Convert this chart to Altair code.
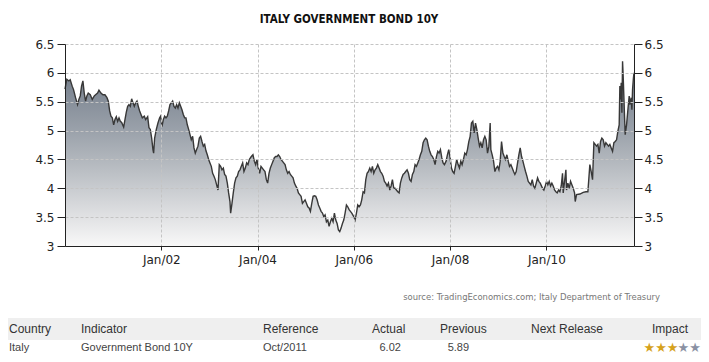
import altair as alt
import pandas as pd

# ---- series (decimal year, yield %) ----
years = [
    2000.000, 2000.011, 2000.038, 2000.080, 2000.108, 2000.149, 2000.177, 2000.219, 2000.260, 2000.288,
    2000.316, 2000.343, 2000.371, 2000.399, 2000.427, 2000.454, 2000.482, 2000.524, 2000.565, 2000.607,
    2000.634, 2000.676, 2000.704, 2000.745, 2000.787, 2000.828, 2000.870, 2000.898, 2000.926, 2000.953,
    2000.981, 2001.009, 2001.036, 2001.064, 2001.092, 2001.120, 2001.147, 2001.175, 2001.217, 2001.244,
    2001.272, 2001.300, 2001.327, 2001.355, 2001.383, 2001.411, 2001.438, 2001.466, 2001.494, 2001.521,
    2001.549, 2001.577, 2001.605, 2001.646, 2001.674, 2001.716, 2001.743, 2001.771, 2001.799, 2001.826,
    2001.840, 2001.861, 2001.896, 2001.930, 2001.965, 2001.986, 2002.013, 2002.041, 2002.069, 2002.097,
    2002.124, 2002.152, 2002.180, 2002.208, 2002.235, 2002.263, 2002.291, 2002.318, 2002.346, 2002.374,
    2002.402, 2002.429, 2002.457, 2002.485, 2002.512, 2002.540, 2002.568, 2002.596, 2002.623, 2002.651,
    2002.679, 2002.706, 2002.734, 2002.762, 2002.790, 2002.817, 2002.845, 2002.873, 2002.901, 2002.928,
    2002.956, 2002.984, 2003.011, 2003.039, 2003.067, 2003.095, 2003.122, 2003.150, 2003.178, 2003.205,
    2003.233, 2003.261, 2003.289, 2003.316, 2003.344, 2003.372, 2003.399, 2003.427, 2003.441, 2003.469,
    2003.496, 2003.524, 2003.552, 2003.580, 2003.607, 2003.635, 2003.663, 2003.691, 2003.718, 2003.746,
    2003.774, 2003.801, 2003.829, 2003.871, 2003.905, 2003.933, 2003.961, 2003.988, 2004.016, 2004.044,
    2004.072, 2004.099, 2004.127, 2004.155, 2004.183, 2004.210, 2004.238, 2004.266, 2004.293, 2004.321,
    2004.349, 2004.377, 2004.404, 2004.432, 2004.460, 2004.487, 2004.515, 2004.543, 2004.571, 2004.598,
    2004.626, 2004.654, 2004.681, 2004.709, 2004.737, 2004.765, 2004.792, 2004.820, 2004.848, 2004.875,
    2004.903, 2004.931, 2004.959, 2004.986, 2005.014, 2005.042, 2005.069, 2005.097, 2005.125, 2005.153,
    2005.180, 2005.208, 2005.236, 2005.264, 2005.291, 2005.319, 2005.347, 2005.374, 2005.402, 2005.430,
    2005.458, 2005.485, 2005.513, 2005.541, 2005.568, 2005.596, 2005.624, 2005.652, 2005.679, 2005.707,
    2005.735, 2005.763, 2005.790, 2005.818, 2005.846, 2005.873, 2005.901, 2005.929, 2005.957, 2005.998,
    2006.026, 2006.054, 2006.081, 2006.109, 2006.137, 2006.164, 2006.192, 2006.220, 2006.248, 2006.275,
    2006.303, 2006.331, 2006.359, 2006.386, 2006.414, 2006.442, 2006.469, 2006.497, 2006.525, 2006.553,
    2006.580, 2006.608, 2006.636, 2006.663, 2006.691, 2006.719, 2006.747, 2006.774, 2006.802, 2006.830,
    2006.857, 2006.885, 2006.913, 2006.941, 2006.968, 2006.996, 2007.024, 2007.051, 2007.079, 2007.107,
    2007.135, 2007.162, 2007.190, 2007.218, 2007.246, 2007.273, 2007.301, 2007.329, 2007.356, 2007.384,
    2007.412, 2007.440, 2007.467, 2007.495, 2007.523, 2007.550, 2007.578, 2007.606, 2007.634, 2007.661,
    2007.689, 2007.717, 2007.745, 2007.772, 2007.800, 2007.828, 2007.855, 2007.883, 2007.918, 2007.945,
    2007.973, 2008.001, 2008.029, 2008.056, 2008.084, 2008.112, 2008.139, 2008.167, 2008.195, 2008.223,
    2008.250, 2008.278, 2008.306, 2008.334, 2008.361, 2008.389, 2008.417, 2008.444, 2008.472, 2008.500,
    2008.528, 2008.555, 2008.583, 2008.611, 2008.638, 2008.666, 2008.694, 2008.722, 2008.749, 2008.777,
    2008.805, 2008.832, 2008.846, 2008.874, 2008.902, 2008.930, 2008.957, 2008.985, 2009.013, 2009.040,
    2009.068, 2009.096, 2009.124, 2009.151, 2009.179, 2009.207, 2009.234, 2009.262, 2009.290, 2009.318,
    2009.345, 2009.373, 2009.401, 2009.428, 2009.456, 2009.484, 2009.512, 2009.539, 2009.567, 2009.595,
    2009.623, 2009.650, 2009.678, 2009.706, 2009.733, 2009.761, 2009.789, 2009.817, 2009.844, 2009.872,
    2009.920, 2009.948, 2009.976, 2010.004, 2010.031, 2010.059, 2010.087, 2010.114, 2010.142, 2010.170,
    2010.198, 2010.225, 2010.253, 2010.281, 2010.309, 2010.336, 2010.350, 2010.378, 2010.406, 2010.419,
    2010.447, 2010.475, 2010.503, 2010.530, 2010.558, 2010.586, 2010.600, 2010.627, 2010.697, 2010.766,
    2010.821, 2010.863, 2010.904, 2010.932, 2010.960, 2010.988, 2011.015, 2011.043, 2011.071, 2011.099,
    2011.126, 2011.154, 2011.182, 2011.209, 2011.237, 2011.265, 2011.293, 2011.320, 2011.348, 2011.376,
    2011.404, 2011.431, 2011.459, 2011.487, 2011.514, 2011.528, 2011.542, 2011.556, 2011.570, 2011.584,
    2011.597, 2011.625, 2011.639, 2011.667, 2011.695, 2011.722, 2011.736, 2011.764, 2011.778, 2011.792,
    2011.810, 2011.822,
]
yields = [
    5.72, 5.77, 5.89, 5.86, 5.88, 5.77, 5.71, 5.57, 5.45, 5.54,
    5.60, 5.77, 5.86, 5.65, 5.51, 5.60, 5.65, 5.62, 5.54, 5.60,
    5.62, 5.65, 5.70, 5.65, 5.62, 5.62, 5.57, 5.51, 5.34, 5.25,
    5.22, 5.10, 5.19, 5.24, 5.16, 5.22, 5.16, 5.14, 5.06, 5.19,
    5.32, 5.42, 5.45, 5.42, 5.55, 5.48, 5.42, 5.48, 5.51, 5.42,
    5.34, 5.28, 5.22, 5.25, 5.19, 5.24, 5.05, 5.02, 4.87, 4.67,
    4.61, 4.87, 5.02, 5.13, 5.22, 5.25, 5.07, 5.19, 5.25, 5.22,
    5.25, 5.34, 5.45, 5.48, 5.51, 5.42, 5.39, 5.45, 5.39, 5.48,
    5.42, 5.36, 5.28, 5.22, 5.22, 5.10, 5.02, 4.93, 4.84, 4.90,
    4.70, 4.61, 4.67, 4.73, 4.87, 4.90, 4.81, 4.73, 4.76, 4.65,
    4.58, 4.50, 4.44, 4.38, 4.26, 4.21, 4.15, 4.06, 3.97, 4.41,
    4.38, 4.32, 4.35, 4.24, 4.21, 4.09, 3.92, 3.77, 3.57, 3.74,
    3.92, 4.09, 4.18, 4.21, 4.29, 4.32, 4.38, 4.44, 4.29, 4.35,
    4.44, 4.41, 4.50, 4.55, 4.58, 4.47, 4.41, 4.50, 4.35, 4.26,
    4.38, 4.35, 4.32, 4.29, 4.15, 4.09, 4.26, 4.35, 4.41, 4.47,
    4.53, 4.55, 4.55, 4.58, 4.55, 4.50, 4.47, 4.44, 4.41, 4.32,
    4.26, 4.29, 4.24, 4.21, 4.18, 4.09, 4.04, 4.00, 3.92, 3.89,
    3.86, 3.74, 3.77, 3.80, 3.74, 3.68, 3.66, 3.60, 3.74, 3.86,
    3.87, 3.86, 3.80, 3.71, 3.66, 3.60, 3.57, 3.51, 3.54, 3.42,
    3.45, 3.34, 3.42, 3.48, 3.42, 3.57, 3.45, 3.39, 3.28, 3.25,
    3.31, 3.39, 3.45, 3.57, 3.71, 3.68, 3.63, 3.60, 3.57, 3.51,
    3.45, 3.57, 3.71, 3.68, 3.71, 3.80, 3.94, 3.92, 4.15, 4.26,
    4.29, 4.35, 4.29, 4.38, 4.26, 4.32, 4.35, 4.41, 4.35, 4.29,
    4.26, 4.21, 4.12, 4.09, 4.04, 4.09, 3.97, 4.04, 4.15, 4.00,
    4.00, 3.97, 3.94, 3.92, 4.09, 4.18, 4.24, 4.26, 4.29, 4.32,
    4.26, 4.15, 4.12, 4.24, 4.29, 4.41, 4.38, 4.44, 4.50, 4.58,
    4.64, 4.79, 4.84, 4.87, 4.84, 4.73, 4.64, 4.58, 4.55, 4.50,
    4.41, 4.55, 4.64, 4.61, 4.67, 4.53, 4.44, 4.41, 4.47, 4.58,
    4.67, 4.53, 4.35, 4.29, 4.26, 4.38, 4.50, 4.41, 4.35, 4.47,
    4.41, 4.50, 4.61, 4.58, 4.67, 4.81, 4.90, 5.13, 5.16, 4.96,
    5.13, 5.02, 4.87, 4.73, 4.79, 4.70, 4.84, 4.90, 4.84, 4.61,
    4.73, 5.13, 4.67, 4.58, 4.47, 4.29, 4.35, 4.38, 4.32, 4.47,
    4.81, 4.61, 4.55, 4.50, 4.58, 4.47, 4.38, 4.41, 4.35, 4.29,
    4.24, 4.29, 4.44, 4.58, 4.70, 4.55, 4.47, 4.38, 4.29, 4.21,
    4.12, 4.09, 4.06, 4.15, 4.04, 4.00, 4.09, 4.18, 4.12, 4.09,
    4.00, 3.97, 4.04, 4.12, 4.06, 4.12, 4.04, 4.09, 4.04, 3.97,
    3.94, 3.92, 3.97, 3.94, 4.04, 4.26, 3.92, 4.12, 4.32, 3.97,
    4.09, 4.00, 4.12, 4.06, 4.00, 3.92, 3.77, 3.89, 3.90, 3.93,
    3.94, 3.94, 4.41, 4.29, 4.15, 4.79, 4.76, 4.73, 4.76, 4.61,
    4.81, 4.87, 4.84, 4.73, 4.79, 4.76, 4.73, 4.76, 4.70, 4.64,
    4.79, 4.81, 4.84, 4.99, 5.10, 5.77, 5.54, 5.83, 5.31, 6.20,
    5.94, 5.25, 4.93, 5.10, 5.36, 5.60, 5.45, 5.57, 5.36, 5.71,
    5.91, 6.00,
]

y_ticks = [3, 3.5, 4, 4.5, 5, 5.5, 6, 6.5]
y_floor = 3
x_tick_years = [2002, 2004, 2006, 2008, 2010]

title_text = "ITALY GOVERNMENT BOND 10Y"
source_text = "source: TradingEconomics.com; Italy Department of Treasury"
table_headers = ["Country", "Indicator", "Reference", "Actual", "Previous", "Next Release", "Impact"]
table_row = ["Italy", "Government Bond 10Y", "Oct/2011", "6.02", "5.89", "", ""]
stars_on = "★★★"
stars_off = "★★"


def to_ts(y):
    yr = int(y)
    start = pd.Timestamp(yr, 1, 1)
    end = pd.Timestamp(yr + 1, 1, 1)
    return start + (end - start) * (y - yr)


df = pd.DataFrame({"date": [to_ts(v) for v in years], "value": yields})
dummy = pd.DataFrame({"k": [0]})

# ---- layout (pixels, relative to plot origin) ----
W, H = 569, 202
PAD = {"left": 57, "top": 36, "right": 67, "bottom": 108}

AX = "#222222"
GRID = "#c4c4c4"
LABEL_FONT = "DejaVu Sans"

x_scale = alt.Scale(domain=[alt.DateTime(year=2000, month=1, date=1),
                            alt.DateTime(year=2011, month=10, date=28)])
y_scale = alt.Scale(domain=[3, 6.5], nice=False, zero=False)

x_axis = alt.Axis(
    values=[alt.DateTime(year=y, month=1, date=1) for y in x_tick_years],
    format="%b/%y", title=None, grid=True, gridColor=GRID, gridDash=[3, 2],
    tickSize=4, tickColor=AX, domainColor=AX, labelColor=AX,
    labelFont=LABEL_FONT, labelFontSize=12, labelPadding=4, labelFlush=False,
    zindex=1,
)
y_axis_left = alt.Axis(
    orient="left", values=y_ticks, format=".1~f", title=None, grid=True,
    gridColor=GRID, gridDash=[3, 2], tickSize=8, tickColor=AX, domainColor=AX,
    labelColor=AX, labelFont=LABEL_FONT, labelFontSize=12, labelPadding=3, zindex=1,
)
y_axis_right = alt.Axis(
    orient="right", values=y_ticks, format=".1~f", title=None, grid=False,
    tickSize=8, tickColor=AX, domainColor=AX, labelColor=AX,
    labelFont=LABEL_FONT, labelFontSize=12, labelPadding=2, zindex=1,
)

gradient = alt.Gradient(
    gradient="linear", x1=1, x2=1, y1=0, y2=1,
    stops=[
        alt.GradientStop(color="#6b7480", offset=0),
        alt.GradientStop(color="#7b8490", offset=0.12),
        alt.GradientStop(color="#9ba2ab", offset=0.38),
        alt.GradientStop(color="#b1b6bc", offset=0.53),
        alt.GradientStop(color="#c9ccd0", offset=0.69),
        alt.GradientStop(color="#e0e1e3", offset=0.84),
        alt.GradientStop(color="#f8f8f8", offset=1),
    ],
)

area = alt.Chart(df).mark_area(fill=gradient, strokeWidth=0).encode(
    x=alt.X("date:T", scale=x_scale, axis=x_axis),
    y=alt.Y("value:Q", scale=y_scale, axis=y_axis_left),
    y2=alt.datum(y_floor),
)
line = alt.Chart(df).mark_line(color="#383838", strokeWidth=1.4).encode(
    x=alt.X("date:T", scale=x_scale, axis=x_axis),
    y=alt.Y("value:Q", scale=y_scale, axis=y_axis_right),
)


def label(text, x, y, align="left", size=12, color="#333333", font="Liberation Sans", weight="normal"):
    return alt.Chart(dummy).mark_text(
        text=text, align=align, baseline="middle", fontSize=size, color=color,
        font=font, fontWeight=weight,
    ).encode(x=alt.value(x), y=alt.value(y))


title = label(title_text, 284, -24.5, align="center", size=11.5, color="#111111",
              font="DejaVu Sans Condensed", weight="bold")
source = label(source_text, 595, 253, align="right", size=9.4, color="#777777",
               font="DejaVu Sans Condensed")

band = alt.Chart(dummy).mark_rect(color="#efefef").encode(
    x=alt.value(-57), x2=alt.value(636), y=alt.value(274), y2=alt.value(296)
)

header_x = [-56, 16, 198, 307, 375, 466, 587]
row_x = [-56, 16, 198, 314.5, 382.7]
layers = [area, line, title, source, band]
for t, x in zip(table_headers, header_x):
    layers.append(label(t, x, 285, size=12, color="#333333"))
for t, x in zip(table_row, row_x):
    layers.append(label(t, x, 304, size=11, color="#444444"))
layers.append(label(stars_on, 578.5, 304, size=13, color="#d6a21c", font="DejaVu Sans"))
layers.append(label(stars_off, 612.5, 304, size=13, color="#8a91a3", font="DejaVu Sans"))

chart = alt.layer(*layers).resolve_axis(y="independent").properties(
    width=W, height=H, padding=PAD, autosize=alt.AutoSizeParams(type="none"),
    background="white",
).configure_view(strokeWidth=0)

chart.save("out.html", embed_options={"renderer": "svg", "actions": False})
